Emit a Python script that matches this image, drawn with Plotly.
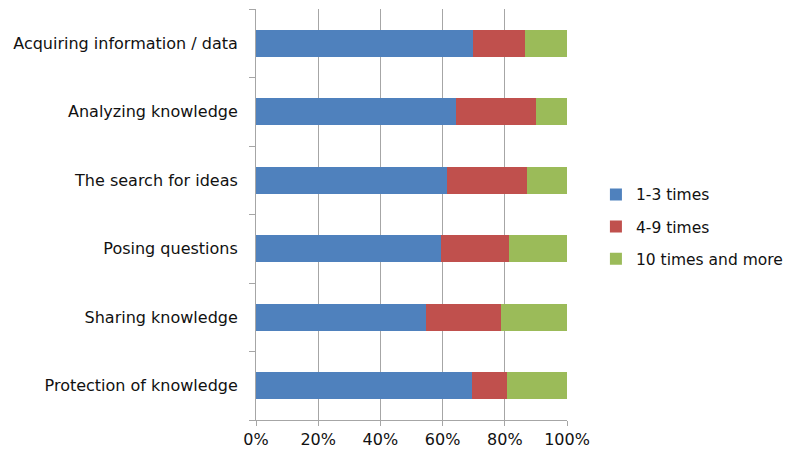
import plotly.graph_objects as go

categories = ["Acquiring information / data", "Analyzing knowledge", "The search for ideas",
              "Posing questions", "Sharing knowledge", "Protection of knowledge"]
s1 = [69.9, 64.3, 61.5, 59.6, 54.6, 69.5]
s2 = [16.5, 25.7, 25.7, 21.7, 24.3, 11.1]
s3 = [13.6, 10.0, 12.8, 18.7, 21.1, 19.4]
names = ["1-3 times", "4-9 times", "10 times and more"]
colors = ["#4F81BD", "#C0504D", "#9BBB59"]
xticks = [0, 20, 40, 60, 80, 100]
xticklabels = ["0%", "20%", "40%", "60%", "80%", "100%"]

FONT = "DejaVu Sans"
FS = 16
fig = go.Figure()
for i, (vals, nm, c) in enumerate(zip([s1, s2, s3], names, colors)):
    fig.add_trace(go.Bar(
        y=categories, x=vals, name=nm, orientation="h",
        marker=dict(color=c, line=dict(width=0)),
        legendgroup=f"g{i}", width=0.4,
    ))

# page body has an 8px margin; compensate so the chart lands on the 792x451 frame
fig.update_layout(
    barmode="stack",
    width=784, height=443,
    margin=dict(l=248, r=225, t=1, b=31, autoexpand=False),
    paper_bgcolor="white", plot_bgcolor="white",
    font=dict(family=FONT, size=FS, color="#111111"),
    showlegend=True,
    legend=dict(x=1.093, y=0.47, xanchor="left", yanchor="middle",
                traceorder="grouped", tracegroupgap=9,
                font=dict(family=FONT, size=15.5, color="#111111"),
                itemwidth=30),
    xaxis=dict(range=[0, 100], tickvals=xticks, ticktext=xticklabels,
               showgrid=True, gridcolor="#A6A6A6", gridwidth=1,
               showline=True, linecolor="#A6A6A6", linewidth=1,
               ticks="outside", ticklen=5, tickcolor="#A6A6A6",
               zeroline=False, automargin=False,
               tickfont=dict(family=FONT, size=FS)),
    yaxis=dict(categoryorder="array", categoryarray=categories[::-1],
               showline=True, linecolor="#A6A6A6", linewidth=1,
               ticks="outside", ticklen=6, tickcolor="#A6A6A6",
               tickson="boundaries", showgrid=False, automargin=False,
               ticklabelstandoff=14,
               tickfont=dict(family=FONT, size=FS)),
)
fig.write_html("out.html")
